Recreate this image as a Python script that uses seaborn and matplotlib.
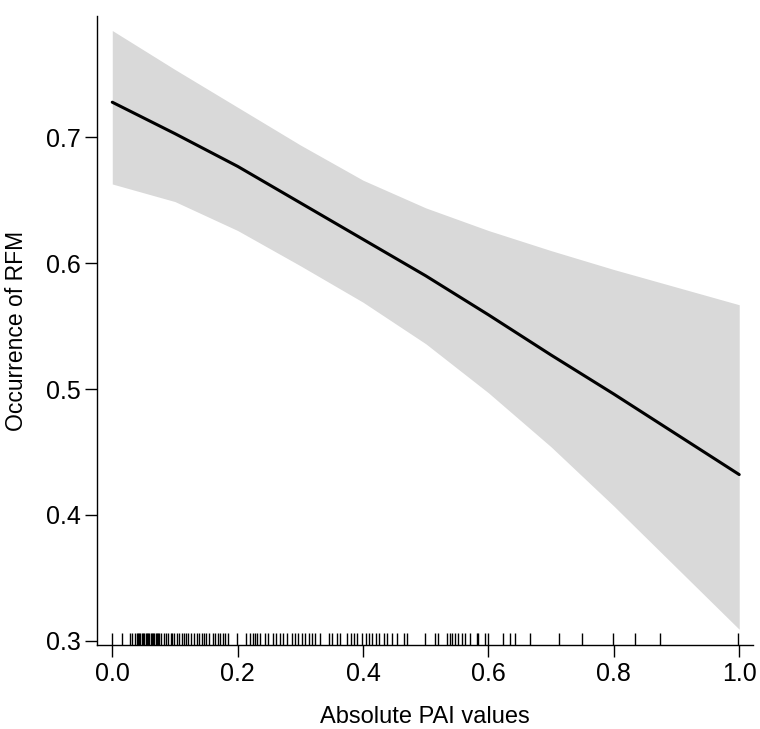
import numpy as np
import pandas as pd
import matplotlib
matplotlib.use("Agg")
import matplotlib.pyplot as plt
import seaborn as sns

# Fitted curve and confidence band
pai = [0.0, 0.1, 0.2, 0.3, 0.4, 0.5, 0.6, 0.7, 0.8, 0.9, 1.0]
fit = [0.728, 0.703, 0.677, 0.648, 0.619, 0.590, 0.559, 0.527, 0.496, 0.464, 0.432]
upper = [0.785, 0.754, 0.724, 0.694, 0.666, 0.644, 0.626, 0.610, 0.595, 0.581, 0.567]
lower = [0.663, 0.649, 0.626, 0.598, 0.569, 0.536, 0.497, 0.454, 0.407, 0.358, 0.309]

# Observed PAI values (rug)
rug_vals = [
    0.0, 0.015, 0.028, 0.032, 0.036, 0.039, 0.041, 0.043, 0.045, 0.047, 0.049,
    0.051, 0.053, 0.055, 0.057, 0.059, 0.061, 0.063, 0.065, 0.067, 0.069, 0.071,
    0.073, 0.075, 0.078, 0.082, 0.086, 0.089, 0.093, 0.096, 0.099, 0.103, 0.107,
    0.111, 0.114, 0.118, 0.121, 0.126, 0.130, 0.135, 0.139, 0.143, 0.146, 0.150,
    0.155, 0.160, 0.164, 0.168, 0.172, 0.176, 0.180, 0.184, 0.199, 0.214, 0.219,
    0.224, 0.228, 0.231, 0.236, 0.243, 0.249, 0.256, 0.261, 0.268, 0.273, 0.278,
    0.286, 0.291, 0.296, 0.302, 0.308, 0.313, 0.319, 0.324, 0.332, 0.345, 0.351,
    0.358, 0.364, 0.374, 0.380, 0.385, 0.390, 0.399, 0.405, 0.410, 0.415, 0.420,
    0.426, 0.433, 0.438, 0.446, 0.454, 0.465, 0.470, 0.499, 0.514, 0.520, 0.534,
    0.538, 0.542, 0.547, 0.552, 0.558, 0.563, 0.571, 0.582, 0.584, 0.595, 0.600,
    0.624, 0.635, 0.643, 0.667, 0.713, 0.749, 0.799, 0.833, 0.874, 0.998,
]

df = pd.DataFrame({"pai": pai, "fit": fit, "upper": upper, "lower": lower})

sns.set_style("ticks")
plt.rcParams['font.family'] = ['Liberation Sans', 'DejaVu Sans']
plt.rcParams.update({"text.color": "black", "axes.labelcolor": "black",
                     "xtick.color": "black", "ytick.color": "black"})

fig = plt.figure(figsize=(7.6, 7.29), dpi=100)
ax = fig.add_axes([0.1276, 0.1152, 0.8632, 0.8628])

ax.fill_between(df["pai"], df["lower"], df["upper"], color="#d9d9d9", lw=0)
sns.lineplot(data=df, x="pai", y="fit", color="black", lw=2.2, ax=ax)
sns.rugplot(x=rug_vals, height=0.019, color="black", lw=0.9, ax=ax)

ax.set_xlim(-0.0244, 1.022)
ax.set_ylim(0.2965, 0.7965)
ax.set_xticks([0.0, 0.2, 0.4, 0.6, 0.8, 1.0])
ax.set_xticklabels(["0.0", "0.2", "0.4", "0.6", "0.8", "1.0"])
ax.set_yticks([0.3, 0.4, 0.5, 0.6, 0.7])
ax.set_yticklabels(["0.3", "0.4", "0.5", "0.6", "0.7"])

ax.set_xlabel("Absolute PAI values", fontsize=17, labelpad=14)
ax.set_ylabel("Occurrence of RFM", fontsize=16.5, labelpad=13)
ax.tick_params(axis="both", labelsize=18, length=8.5, width=1, color="black")
ax.tick_params(axis="x", pad=4)
ax.tick_params(axis="y", pad=3)

for side in ["top", "right"]:
    ax.spines[side].set_visible(False)
for side in ["left", "bottom"]:
    ax.spines[side].set_linewidth(1)
    ax.spines[side].set_color("black")

fig.savefig("out.png", dpi=100)
plt.close(fig)
